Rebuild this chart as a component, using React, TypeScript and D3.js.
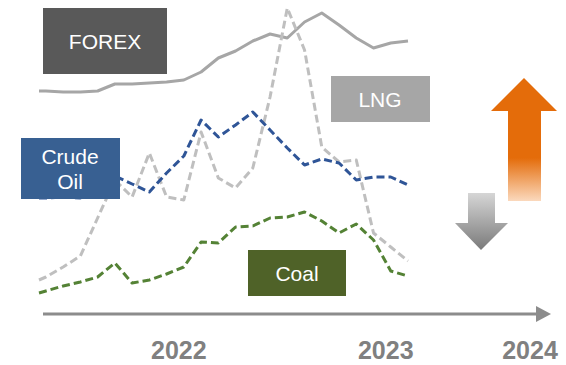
import React from "react";
import * as d3 from "d3";

// Month offsets relative to January 2022
const months = [-8.4, -8, -7, -6, -5, -4, -3, -2, -1, 0, 1, 2, 3, 4, 5, 6, 7, 8, 9, 10, 11, 12, 13];

// Relative price index per commodity
const forex = [209, 209, 208, 208, 209, 216, 216, 217, 218, 220, 228, 242, 249, 259, 266, 262, 278, 287, 275, 262, 252, 257, 259];
const crudeOil = [102, 102, 103, 102, 110, 124, 116, 108, 127, 144, 180, 163, 175, 188, 170, 152, 135, 141, 137, 120, 123, 123, 115];
const lng = [20, 23, 33, 44, 82, 120, 103, 147, 103, 100, 168, 122, 112, 132, 203, 292, 250, 153, 138, 140, 67, 53, 39];
const coal = [7, 9, 14, 18, 23, 37, 17, 20, 26, 33, 58, 57, 73, 74, 82, 83, 88, 79, 67, 76, 60, 29, 24];

const yearTicks = [0, 12];
const yearLabels = ["2022", "2023"];
const finalYear = "2024";

const W = 566;
const H = 365;
const FONT = "'Liberation Sans', Arial, sans-serif";

export default function App() {
  const x = d3.scaleLinear().domain([-8.4, 13]).range([39, 408]);
  const y = d3.scaleLinear().domain([0, 300]).range([300, 0]);

  const line = (vals: number[]) =>
    d3
      .line<number>()
      .x((_, i) => x(months[i]))
      .y((v) => y(v))(vals) as string;

  const series = [
    { name: "FOREX", vals: forex, color: "#a6a6a6", dash: undefined },
    { name: "LNG", vals: lng, color: "#bfbfbf", dash: "8,4" },
    { name: "Crude Oil", vals: crudeOil, color: "#2f5597", dash: "8,4" },
    { name: "Coal", vals: coal, color: "#548235", dash: "8,4" },
  ];

  const axisY = 314;
  const axisStart = 43;
  const axisTip = 551;
  const yearBaseline = 359;

  return (
    <svg
      width={W}
      height={H}
      style={{ position: "absolute", left: 0, top: 0, background: "#fff" }}
      fontFamily={FONT}
    >
      <defs>
        <linearGradient id="upGrad" x1="0" y1="0" x2="0" y2="1">
          <stop offset="0" stopColor="#e46c0a" />
          <stop offset="0.65" stopColor="#e46c0a" />
          <stop offset="1" stopColor="#fbd9bd" />
        </linearGradient>
        <linearGradient id="downGrad" x1="0" y1="0" x2="0" y2="1">
          <stop offset="0" stopColor="#d6d6d6" />
          <stop offset="1" stopColor="#7a7a7a" />
        </linearGradient>
      </defs>

      {series.map((s) => (
        <path
          key={s.name}
          d={line(s.vals)}
          fill="none"
          stroke={s.color}
          strokeWidth={3}
          strokeDasharray={s.dash}
          strokeLinejoin="round"
        />
      ))}

      {/* Series labels */}
      <rect x={43} y={8} width={124} height={66} fill="#595959" />
      <text x={105} y={49} fill="#fff" fontSize={21} textAnchor="middle">FOREX</text>

      <rect x={331} y={76} width={99} height={46} fill="#a6a6a6" />
      <text x={380} y={107} fill="#fff" fontSize={21} textAnchor="middle">LNG</text>

      <rect x={21} y={138} width={99} height={61} fill="#386092" />
      <text x={70} y={164} fill="#fff" fontSize={21} textAnchor="middle">Crude</text>
      <text x={70} y={189} fill="#fff" fontSize={21} textAnchor="middle">Oil</text>

      <rect x={248} y={250} width={98} height={46} fill="#4f6228" />
      <text x={297} y={281} fill="#fff" fontSize={21} textAnchor="middle">Coal</text>

      {/* Trend arrows */}
      <path d="M508,201 L508,111 L491,111 L524,78 L557,111 L541,111 L541,201 Z" fill="url(#upGrad)" />
      <path d="M468,193 L495,193 L495,223 L508,223 L481,250 L455,223 L468,223 Z" fill="url(#downGrad)" />

      {/* Time axis */}
      <line x1={axisStart} x2={axisTip - 14} y1={axisY} y2={axisY} stroke="#8c8c8c" strokeWidth={3} />
      <path d={`M${axisTip - 15},${axisY - 8} L${axisTip},${axisY} L${axisTip - 15},${axisY + 8} Z`} fill="#8c8c8c" />

      {yearTicks.map((t, i) => (
        <text
          key={t}
          x={x(t) - 5}
          y={yearBaseline}
          fill="#808080"
          fontSize={25}
          fontWeight="bold"
          textAnchor="middle"
        >
          {yearLabels[i]}
        </text>
      ))}
      <text x={axisTip - 21} y={yearBaseline} fill="#808080" fontSize={25} fontWeight="bold" textAnchor="middle">
        {finalYear}
      </text>
    </svg>
  );
}
